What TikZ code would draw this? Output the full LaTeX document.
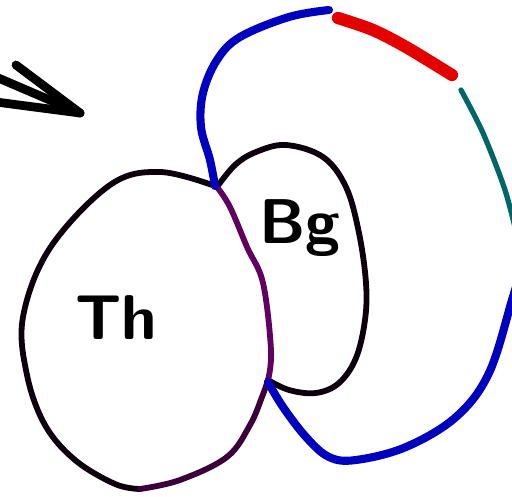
\documentclass[tikz,border=0pt]{standalone}
\begin{document}
\begin{tikzpicture}[x=0.02cm,y=-0.02cm,line cap=round,line join=round,
  outline/.style={line width=3.3pt,draw=black!90!violet},
  border/.style={line width=3.3pt,draw=violet!75!black},
  loopline/.style={line width=4.6pt,draw=blue!75!black},
  pen/.style={line width=5pt,draw=black},
  tag/.style={font=\sffamily\bfseries\fontsize{36}{40}\selectfont}]
\useasboundingbox (0,0) rectangle (512,497);
% arrow head
\coordinate (tip) at (80,113);
\foreach \p in {(16,65),(-4,77),(-4,102)}
  \draw[pen] \p -- (tip);
% junctions
\coordinate (top) at (215,186);
\coordinate (low) at (268,380);
% Th
\draw[outline] plot[smooth,tension=.6] coordinates {(215,186) (160,172) (110,185) (50,248) (23,317) (27,375) (45,425) (75,460) (115,484) (140,489)};
\draw[border,draw=violet!45!black] plot[smooth,tension=.6] coordinates {(140,489) (180,480) (227,457) (250,425) (262,397) (268,380)};
% Bg
\draw[outline] plot[smooth,tension=.6] coordinates {(217,187) (235,165) (256,152) (286,145) (323,157) (346,187) (359,233) (366,283) (365,320) (356,358) (339,383) (316,393) (289,390) (268,380)};
% shared border
\draw[border] plot[smooth,tension=.6] coordinates {(217,187) (230,207) (247,247) (263,283) (271,350) (268,380)};
% big loop
\draw[loopline] plot[smooth,tension=.6] coordinates {(215,186) (210,160) (201,127) (203,93) (217,60) (240,37) (289,17) (329,10)};
\draw[line width=7pt,draw=red!90!black] plot[smooth] coordinates {(338,18) (373,30) (406,47) (452,75)};
\draw[line width=3pt,draw=teal!80!black] plot[smooth] coordinates {(461,90) (483,133) (505,190) (518,240)};
\draw[loopline] plot[smooth,tension=.6] coordinates {(518,280) (512,300) (489,373) (456,417) (406,447) (356,460) (329,457) (306,437) (283,407) (268,382)};
% labels
\node[tag] (th) at (116,318) {Th};
\node[tag] (bg) at (300,228) {Bg};
\end{tikzpicture}
\end{document}
